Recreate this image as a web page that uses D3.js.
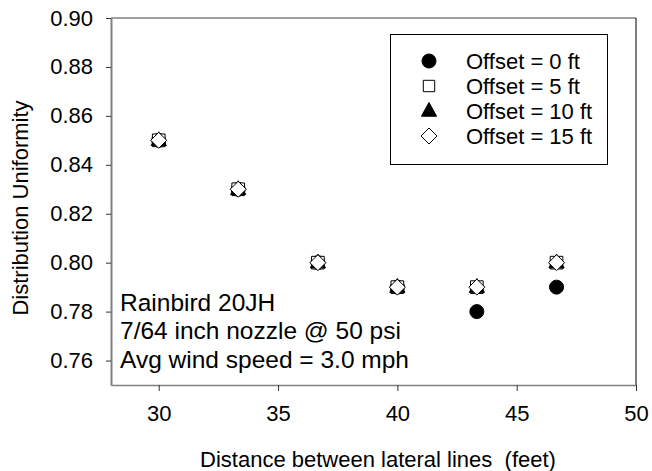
<!DOCTYPE html>
<html>
<head>
<meta charset="utf-8">
<script src="https://cdn.jsdelivr.net/npm/d3@7"></script>
<style>
  body { margin: 0; background: #fff; }
  text { font-family: "Liberation Sans", Arial, sans-serif; fill: #000; }
</style>
</head>
<body>
<div id="chart"></div>
<script>
// data
var spacing = [30, 33.33, 36.67, 40, 43.33, 46.67];
var offset0 = [0.85, 0.83, 0.80, 0.79, 0.78, 0.79];
var offset5 = [0.85, 0.83, 0.80, 0.79, 0.79, 0.80];
var offset10 = [0.85, 0.83, 0.80, 0.79, 0.79, 0.80];
var offset15 = [0.85, 0.83, 0.80, 0.79, 0.79, 0.80];
var seriesNames = ["Offset = 0 ft", "Offset = 5 ft", "Offset = 10 ft", "Offset = 15 ft"];
var xTicks = [30, 35, 40, 45, 50];
var yTicks = [0.76, 0.78, 0.80, 0.82, 0.84, 0.86, 0.88, 0.90];
var notes = ["Rainbird 20JH", "7/64 inch nozzle @ 50 psi", "Avg wind speed = 3.0 mph"];

var W = 652, H = 471;
var margin = { top: 18, right: 16, bottom: 86, left: 111 },
    width = W - margin.left - margin.right,
    height = H - margin.top - margin.bottom;

var svg = d3.select("#chart").append("svg")
    .attr("width", W).attr("height", H);
var g = svg.append("g")
    .attr("transform", "translate(" + margin.left + "," + margin.top + ")");

var x = d3.scaleLinear().domain([28, 50]).range([0, width]);
var y = d3.scaleLinear().domain([0.75, 0.90]).range([height, 0]);

// frame: top gray, right black
g.append("line").attr("x1", 0).attr("x2", width).attr("y1", 0).attr("y2", 0)
    .attr("stroke", "#808080").attr("stroke-width", 1.5);
g.append("line").attr("x1", width).attr("x2", width).attr("y1", 0).attr("y2", height)
    .attr("stroke", "#000").attr("stroke-width", 1);

// X axis
var xAxis = g.append("g")
    .attr("transform", "translate(0," + height + ")")
    .call(d3.axisBottom(x).tickValues(xTicks).tickSize(6).tickPadding(14).tickSizeOuter(0));
xAxis.select(".domain").attr("stroke", "#808080").attr("stroke-width", 1.5);
xAxis.selectAll(".tick line").attr("stroke", "#333");
xAxis.selectAll(".tick text").attr("font-size", 22).attr("fill", "#000");

// Y axis
var yAxis = g.append("g")
    .call(d3.axisLeft(y).tickValues(yTicks).tickSize(5).tickPadding(13).tickSizeOuter(0)
        .tickFormat(d3.format(".2f")));
yAxis.select(".domain").attr("stroke", "#808080").attr("stroke-width", 2);
yAxis.selectAll(".tick line").attr("stroke", "#333");
yAxis.selectAll(".tick text").attr("font-size", 22).attr("fill", "#000");

// axis titles
svg.append("text")
    .attr("x", 378).attr("y", 467)
    .attr("text-anchor", "middle").attr("font-size", 22)
    .style("white-space", "pre")
    .text("Distance between lateral lines  (feet)");
svg.append("text")
    .attr("transform", "translate(28,208) rotate(-90)")
    .attr("text-anchor", "middle").attr("font-size", 22)
    .text("Distribution Uniformity");

// marker shapes
var diamond = {
    draw: function (ctx, size) {
        var r = Math.sqrt(size / 2);
        ctx.moveTo(0, -r); ctx.lineTo(r, 0); ctx.lineTo(0, r); ctx.lineTo(-r, 0); ctx.closePath();
    }
};
var triangle = {
    draw: function (ctx, size) {
        var s = Math.sqrt(size);
        ctx.moveTo(0, -s * 0.62); ctx.lineTo(s * 0.55, s * 0.38); ctx.lineTo(-s * 0.55, s * 0.38); ctx.closePath();
    }
};
var markers = [
    { type: d3.symbolCircle, size: 154, fill: "#000" },
    { type: d3.symbolSquare, size: 160, fill: "#fff" },
    { type: triangle, size: 190, fill: "#000" },
    { type: diamond, size: 128, fill: "#fff" }
];
var allSeries = [offset0, offset5, offset10, offset15];

allSeries.forEach(function (vals, i) {
    var m = markers[i];
    g.selectAll(".s" + i)
        .data(vals)
        .enter().append("path")
        .attr("class", "s" + i)
        .attr("transform", function (d, j) { return "translate(" + x(spacing[j]) + "," + y(d) + ")"; })
        .attr("d", d3.symbol().type(m.type).size(m.size))
        .attr("fill", m.fill)
        .attr("stroke", "#000")
        .attr("stroke-width", 1);
});

// legend
var legend = svg.append("g");
legend.append("rect")
    .attr("x", 390.5).attr("y", 34.5).attr("width", 217).attr("height", 130)
    .attr("fill", "#fff").attr("stroke", "#000").attr("stroke-width", 1);
seriesNames.forEach(function (name, i) {
    var m = markers[i];
    var base = 69 + i * 25;
    legend.append("path")
        .attr("transform", "translate(429," + (base - 8) + ")")
        .attr("d", d3.symbol().type(m.type).size(i === 1 ? 130 : m.size))
        .attr("fill", m.fill).attr("stroke", "#000").attr("stroke-width", 1);
    legend.append("text")
        .attr("x", 466).attr("y", base)
        .attr("font-size", 22)
        .text(name);
});

// annotation
notes.forEach(function (t, i) {
    svg.append("text")
        .attr("x", 120).attr("y", 311 + i * 28.3)
        .attr("font-size", 24.5)
        .text(t);
});
</script>
</body>
</html>
